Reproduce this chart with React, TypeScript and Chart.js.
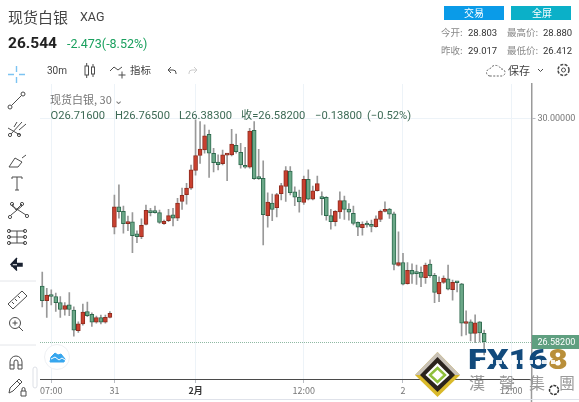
import React, { useEffect, useRef } from "react";
import { Chart, registerables } from "chart.js";

Chart.register(...registerables);

const opens = [
  27.44, 27.215, 27.3, 27.28, 27.185, 27.08, 27.15, 27.07, 26.755, 26.86,
  27.05, 27.005, 26.885, 26.955, 26.885, 26.96, 28.34, 28.655, 28.585, 28.395,
  28.425, 28.24, 28.195, 28.385, 28.575, 28.57, 28.565, 28.395, 28.44, 28.53,
  28.48, 28.735, 28.84, 28.94, 29.21, 29.44, 29.525, 29.765, 29.475, 29.34,
  29.315, 29.445, 29.45, 29.595, 29.49, 29.29, 29.26, 29.825, 29.09, 29.09,
  28.52, 28.71, 28.64, 28.855, 28.965, 29.2, 28.885, 28.8, 28.72, 29.075,
  28.77, 28.9, 28.8, 28.8, 28.52, 28.425, 28.575, 28.75, 28.62, 28.555,
  28.415, 28.335, 28.385, 28.385, 28.35, 28.46, 28.585, 28.62, 28.545, 27.755,
  27.8, 27.475, 27.68, 27.645, 27.65, 27.568, 27.778, 27.605, 27.32, 27.495,
  27.55, 27.385, 27.5, 27.475, 26.865, 26.89, 26.715, 26.89, 26.716,
];
const highs = [
  27.655, 27.405, 27.38, 27.33, 27.28, 27.185, 27.34, 27.12, 26.89, 27.165,
  27.195, 27.03, 26.98, 26.995, 26.995, 27.05, 28.835, 28.99, 28.665, 28.51,
  28.565, 28.285, 28.47, 28.68, 28.63, 28.665, 28.605, 28.45, 28.615, 28.63,
  28.785, 28.94, 29.015, 29.295, 29.985, 29.96, 29.91, 29.83, 29.55, 29.45,
  29.525, 29.475, 29.84, 29.77, 29.625, 29.565, 29.855, 29.96, 29.535, 29.36,
  28.87, 28.85, 28.86, 29.015, 29.27, 29.27, 28.96, 28.91, 29.125, 29.22,
  28.97, 29.125, 28.885, 28.81, 28.615, 28.595, 28.885, 28.82, 28.705, 28.665,
  28.425, 28.425, 28.435, 28.45, 28.515, 28.605, 28.73, 28.63, 28.575, 28.27,
  27.94, 27.8, 27.78, 27.76, 27.735, 27.79, 27.84, 27.635, 27.58, 27.595,
  27.76, 27.53, 27.505, 27.48, 27.06, 26.92, 27.0, 26.895, 26.765,
];
const lows = [
  27.12, 26.96, 27.15, 27.05, 26.96, 26.995, 26.985, 26.67, 26.73, 26.84,
  26.97, 26.82, 26.87, 26.86, 26.87, 26.95, 28.24, 28.48, 28.25, 28.29,
  27.95, 28.105, 28.165, 28.375, 28.515, 28.555, 28.4, 28.385, 28.425, 28.36,
  28.44, 28.615, 28.695, 28.92, 29.14, 29.32, 29.475, 29.105, 29.19, 29.22,
  29.295, 29.055, 29.435, 29.475, 29.245, 29.245, 29.245, 29.075, 29.075, 28.07,
  28.34, 28.44, 28.5, 28.76, 28.735, 28.835, 28.67, 28.57, 28.69, 28.76,
  28.76, 28.895, 28.53, 28.45, 28.31, 28.36, 28.475, 28.46, 28.45, 28.375,
  28.21, 28.22, 28.34, 28.27, 28.34, 28.425, 28.575, 28.475, 27.685, 27.745,
  27.455, 27.47, 27.48, 27.465, 27.43, 27.48, 27.57, 27.185, 27.2, 27.48,
  27.38, 27.225, 27.35, 26.675, 26.69, 26.6, 26.57, 26.585, 26.383,
];
const closes = [
  27.215, 27.3, 27.28, 27.185, 27.08, 27.14, 27.08, 26.765, 26.86, 27.04,
  26.985, 26.885, 26.955, 26.885, 26.96, 27.02, 28.655, 28.58, 28.395, 28.425,
  28.21, 28.195, 28.37, 28.6, 28.565, 28.565, 28.415, 28.43, 28.52, 28.48,
  28.71, 28.83, 28.94, 29.22, 29.44, 29.54, 29.74, 29.475, 29.33, 29.3,
  29.45, 29.455, 29.615, 29.5, 29.295, 29.26, 29.815, 29.085, 29.085, 28.535,
  28.725, 28.615, 28.84, 28.98, 29.21, 28.87, 28.8, 28.73, 29.075, 28.77,
  28.9, 29.01, 28.78, 28.52, 28.425, 28.585, 28.75, 28.615, 28.57, 28.4,
  28.34, 28.385, 28.375, 28.355, 28.47, 28.585, 28.615, 28.54, 27.77, 27.8,
  27.47, 27.68, 27.62, 27.63, 27.57, 27.76, 27.6, 27.34, 27.495, 27.56,
  27.39, 27.495, 27.49, 26.87, 26.875, 26.715, 26.875, 26.72, 26.582,
];

const SLOT_COUNT = 109;
const xTickSlots = [2, 16, 34, 58, 80, 104];
const xTickLabels = ["07:00", "31", "2月", "12:00", "2", "12:00"];
const yTickValues = [30];
const lastClose = 26.582;

const categories: string[] = Array.from({ length: SLOT_COUNT }, (_, i) => {
  const k = xTickSlots.indexOf(i);
  return k >= 0 ? xTickLabels[k] : "";
});

const RED = "#c9402f";
const RED_EDGE = "#8f2c1f";
const GREEN = "#6ba888";
const GREEN_EDGE = "#2e6a4e";
const FONT = "Roboto, 'Noto Sans CJK SC', sans-serif";
const CJK = "'Noto Sans CJK SC', Roboto, sans-serif";

const priceTag = {
  id: "priceTag",
  afterDraw(chart: any) {
    const { ctx, chartArea, scales } = chart;
    const y = scales.y.getPixelForValue(lastClose);
    ctx.save();
    ctx.strokeStyle = "#8fb9a3";
    ctx.lineWidth = 1;
    ctx.setLineDash([1, 1]);
    ctx.beginPath();
    ctx.moveTo(chartArea.left, y + 0.5);
    ctx.lineTo(chartArea.right, y + 0.5);
    ctx.stroke();
    ctx.setLineDash([]);
    ctx.fillStyle = "#5f9f80";
    ctx.fillRect(chartArea.right + 0.5, y - 7, 48, 14);
    ctx.fillStyle = "#ffffff";
    ctx.font = "9px " + FONT;
    ctx.textBaseline = "middle";
    ctx.textAlign = "left";
    ctx.fillText(lastClose.toFixed(5), chartArea.right + 6, y + 0.5);
    ctx.restore();
  },
};

const abs = (left: number, top: number, extra: React.CSSProperties = {}): React.CSSProperties => ({
  position: "absolute",
  left,
  top,
  whiteSpace: "nowrap",
  lineHeight: 1,
  ...extra,
});

function Label({ x, y, size = 10, color = "#333", font = FONT, weight = 400, spacing = 0, children }: any) {
  return (
    <span
      style={abs(x, y - size / 2, {
        fontSize: size,
        color,
        fontFamily: font,
        fontWeight: weight,
        letterSpacing: spacing,
      })}
    >
      {children}
    </span>
  );
}

function Icons() {
  const s = { fill: "none", stroke: "#4c4c4c", strokeWidth: 1 };
  return (
    <svg width={579} height={402} style={{ position: "absolute", left: 0, top: 0, pointerEvents: "none" }}>
      {/* left toolbar */}
      <g stroke="#7cc4f2" strokeWidth={1.4}>
        <path d="M8 74.5h6M19 74.5h6M16.5 66v6M16.5 77v6" />
      </g>
      <g {...s}>
        <circle cx={10} cy={107} r={2} />
        <circle cx={23} cy={94} r={2} />
        <path d="M11.5 105.5L21.5 95.5" />
        <circle cx={10} cy={135} r={1.6} />
        <circle cx={19} cy={135} r={1.6} />
        <path d="M11 134L22 122M8 128L20 135M14 127L17 122M19 130L26 124" />
        <path d="M9 167L15 158L22 162L18 167ZM22 158L26 155" />
        <path d="M12 177h10M17 177v13M12 177v2M22 177v2M15 190h4" />
        <circle cx={12} cy={204} r={1.6} />
        <circle cx={22} cy={204} r={1.6} />
        <circle cx={10} cy={217} r={1.6} />
        <circle cx={27} cy={216} r={1.6} />
        <path d="M12 206L26 215M22 206L11 215M12 204L16 210L22 204" />
        <path d="M9 231h16M9 237h16M9 243h16M17 231v12" />
        <circle cx={9} cy={231} r={1.6} />
        <circle cx={25} cy={231} r={1.6} />
        <circle cx={9} cy={237} r={1.6} />
        <circle cx={25} cy={237} r={1.6} />
        <circle cx={9} cy={243} r={1.6} />
        <circle cx={25} cy={243} r={1.6} />
        <path d="M8 304L22 291L27 296L13 309ZM12 302l2 2M15 299l2 2M18 296l2 2" />
        <circle cx={15} cy={323} r={5.5} />
        <path d="M19 327l4 4M12.5 323h5M15 320.500v5" />
        <path d="M10 369v-7a6 6 0 0 1 12 0v7h-4v-7a2 2 0 0 0-4 0v7ZM10 365h4M18 365h4" />
        <path d="M9 393l1-5 9-9 3 3-9 9ZM17 381l3 3M21 391h5v5h-5ZM22 391v-2a1.500 1.500 0 0 1 3 0v2" />
      </g>
      <path d="M12 263.500h10v2.500h-10ZM17 258l-6 6.500 6 6" fill="#1a2230" stroke="#1a2230" strokeWidth={1.5} />
      <path d="M0 281H36M0 345H36" stroke="#e4e6ea" strokeWidth={1} />
      <rect x={33} y={367} width={4} height={21} rx={2} fill="#fff" stroke="#dde0e6" />
      {/* top toolbar */}
      <g {...s}>
        <rect x={85} y={66} width={3.5} height={9} />
        <path d="M86.700 63v3M86.700 75v3" />
        <rect x={91.500} y={67} width={3} height={7} />
        <path d="M93 64v3M93 74v3" />
        <path d="M110 71l4-4 4 3 4-3M118.500 75h7M122 71.500v7" />
        <path d="M168 70h5a3 3 0 0 1 3 3v1M168 70l3-3M168 70l3 3" />
        <path d="M197 70h-5a3 3 0 0 0-3 3v1M197 70l-3-3M197 70l-3 3" stroke="#ccc" />
        <path
          d="M490 76a3.500 3.500 0 0 1 0-7a6 6 0 0 1 11 0a3.500 3.500 0 0 1 1 7Z"
          strokeDasharray="2 1.500"
          stroke="#666"
        />
        <path d="M538 69l2.500 2.500 2.500-2.500" />
        <circle cx={563.500} cy={70} r={2} />
        <circle cx={563.500} cy={70} r={5.500} strokeDasharray="3 1.400" strokeWidth={1.500} />
      </g>
      {/* cloud badge */}
      <circle cx={57} cy={357} r={12.500} fill="#fff" stroke="#eef0f3" />
      <path d="M50 362l1-5 4-4 3 2 3-1 4 5-1 3H50Z" fill="#37a6ee" stroke="#37a6ee" strokeLinejoin="round" />
      <path d="M51 359l4-2 4 3 3-2 3 2" fill="none" stroke="#fff" strokeWidth={1} />
      {/* right axis continues below the time axis, and the bottom rule */}
      <path d="M531.500 379V402" stroke="#9a9a9a" strokeWidth={1.5} />
      <path d="M40 399.500H579" stroke="#dfe2ea" />
      {/* watermark diamond */}
      <path d="M437.500 352L460 375L437.500 397L415 375Z" fill="#d9b92b" />
      <path d="M437.500 352L460 375L452 375L437.500 360L423 375L415 375Z" fill="#c9c2b8" />
      <path d="M437.500 357L455 375L437.500 392L420 375Z" fill="#2b231d" />
      <path d="M437.500 363L449.500 375L437.500 386L425.500 375Z" fill="#fff" />
      <path d="M437.500 368L445 375L437.500 382L430 375Z" fill="none" stroke="#8fbf3c" strokeWidth={2.500} />
      <circle cx={554} cy={390} r={4.500} fill="none" stroke="#333" strokeWidth={1.500} strokeDasharray="3 1" />
    </svg>
  );
}

export default function App() {
  const ref = useRef<HTMLCanvasElement>(null);

  useEffect(() => {
    document.body.style.margin = "0";
    const pad = (arr: any[]) => arr.concat(Array(SLOT_COUNT - arr.length).fill(null));
    const wicks = pad(lows.map((l, i) => [l, highs[i]]));
    const bodies = pad(opens.map((o, i) => [o, closes[i]]));
    const isUp = (i: number) => closes[i] >= opens[i];
    const chart = new Chart(ref.current as HTMLCanvasElement, {
      type: "bar",
      data: {
        labels: categories,
        datasets: [
          {
            label: "body",
            data: bodies,
            order: 1,
            grouped: false,
            barThickness: 4,
            minBarLength: 2,
            borderWidth: 1,
            borderSkipped: false,
            backgroundColor: (c: any) => (isUp(c.dataIndex) ? RED : GREEN),
            borderColor: (c: any) => (isUp(c.dataIndex) ? RED_EDGE : GREEN_EDGE),
          },
          {
            label: "wick",
            data: wicks,
            order: 2,
            grouped: false,
            barThickness: 1,
            backgroundColor: "#999999",
            borderWidth: 0,
          },
        ] as any,
      },
      options: {
        responsive: false,
        animation: false,
        devicePixelRatio: 1,
        layout: { padding: { left: 40, top: 84, right: 0, bottom: 0 } },
        plugins: { legend: { display: false }, tooltip: { enabled: false } },
        scales: {
          x: {
            type: "category",
            offset: true,
            afterBuildTicks: (s: any) => {
              s.ticks = s.ticks.filter((t: any) => xTickSlots.includes(t.value));
            },
            afterFit: (s: any) => {
              s.height = 23;
            },
            border: { color: "#4a4a4a", width: 1 },
            grid: {
              offset: false,
              color: "#edf3f8",
              tickColor: "#b9bdc4",
              tickLength: 4,
              drawTicks: true,
            },
            ticks: {
              autoSkip: false,
              maxRotation: 0,
              padding: 2,
              color: (c: any) => (c.tick && c.tick.label === "2月" ? "#333" : "#777"),
              font: (c: any) => ({
                size: 9,
                family: CJK,
                weight: c.tick && c.tick.label === "2月" ? "bold" : "normal",
              }),
              callback: function (this: any, v: any) {
                return this.getLabelForValue(v);
              },
            },
          },
          y: {
            type: "linear",
            position: "right",
            min: 26.015,
            max: 30.536,
            afterBuildTicks: (s: any) => {
              s.ticks = yTickValues.map((value) => ({ value }));
            },
            afterFit: (s: any) => {
              s.width = 47.5;
            },
            border: { color: "#9a9a9a", width: 1.5 },
            grid: { color: "#edf3f8", tickColor: "#b9bdc4", tickLength: 4 },
            ticks: {
              color: "#777",
              padding: 2,
              font: { size: 9, family: FONT },
              callback: (v: any) => Number(v).toFixed(5),
            },
          },
        },
      } as any,
      plugins: [priceTag],
    });
    return () => chart.destroy();
  }, []);

  return (
    <div style={{ position: "relative", width: 579, height: 402, overflow: "hidden", background: "#fff" }}>
      <canvas ref={ref} width={579} height={402} style={{ position: "absolute", left: 0, top: 0 }} />
      <Icons />
      <Label x={8} y={16} size={15} color="#444" font={CJK}>现货白银</Label>
      <Label x={80} y={17} size={12.500} color="#444">XAG</Label>
      <Label x={8} y={44} size={15.500} color="#222" weight={700}>26.544</Label>
      <Label x={67} y={44.500} size={12.500} color="#1aa05e">-2.473(-8.52%)</Label>

      <div style={abs(444, 6, { width: 60, height: 14, background: "#0a9be8" })} />
      <div style={abs(511, 6, { width: 60, height: 14, background: "#0bb0c8" })} />
      <Label x={464} y={13} size={10} color="#fff" font={CJK}>交易</Label>
      <Label x={532} y={13} size={10} color="#fff" font={CJK}>全屏</Label>

      <Label x={441} y={33} size={9.500} color="#888" font={CJK}>今开:</Label>
      <Label x={468} y={33} size={9.500} color="#333">28.803</Label>
      <Label x={507} y={33} size={9.500} color="#888" font={CJK}>最高价:</Label>
      <Label x={543} y={33} size={9.500} color="#333">28.880</Label>
      <Label x={441} y={51} size={9.500} color="#888" font={CJK}>昨收:</Label>
      <Label x={468} y={51} size={9.500} color="#333">29.017</Label>
      <Label x={507} y={51} size={9.500} color="#888" font={CJK}>最低价:</Label>
      <Label x={543} y={51} size={9.500} color="#333">26.412</Label>

      <Label x={47} y={70.500} size={10} color="#444">30m</Label>
      <Label x={130} y={70} size={10.500} color="#444" font={CJK}>指标</Label>
      <Label x={508} y={70} size={11} color="#444" font={CJK}>保存</Label>

      <Label x={50} y={99.500} size={11} color="#777" font={CJK}>现货白银, 30 ⌄</Label>
      <Label x={50.500} y={116} size={11.200} color="#3d6a55">O26.71600</Label>
      <Label x={115} y={116} size={11.200} color="#3d6a55">H26.76500</Label>
      <Label x={179} y={116} size={11.200} color="#3d6a55">L26.38300</Label>
      <Label x={241} y={116} size={11.200} color="#3d6a55">收=26.58200</Label>
      <Label x={315} y={116} size={11.200} color="#3d6a55">−0.13800</Label>
      <Label x={367} y={116} size={11.200} color="#3d6a55">(−0.52%)</Label>

      <span
        style={abs(468, 346, {
          fontSize: 28,
          fontWeight: 900,
          fontFamily: FONT,
          color: "#124a7c",
          transform: "scaleX(1.22)",
          transformOrigin: "left top",
        })}
      >
        FX16<span style={{ color: "#b98f3a" }}>8</span>
      </span>
      <svg width={579} height={402} style={{ position: "absolute", left: 0, top: 0, pointerEvents: "none" }}>
        <path d="M480 362H560" stroke="#fff" strokeWidth={4} strokeDasharray="7 2 4 3 6 2 3 4" opacity={0.9} />
      </svg>
      <Label x={469} y={382} size={16} color="#9a9a9a" font={CJK} spacing={14}>漢聲集團</Label>
    </div>
  );
}
